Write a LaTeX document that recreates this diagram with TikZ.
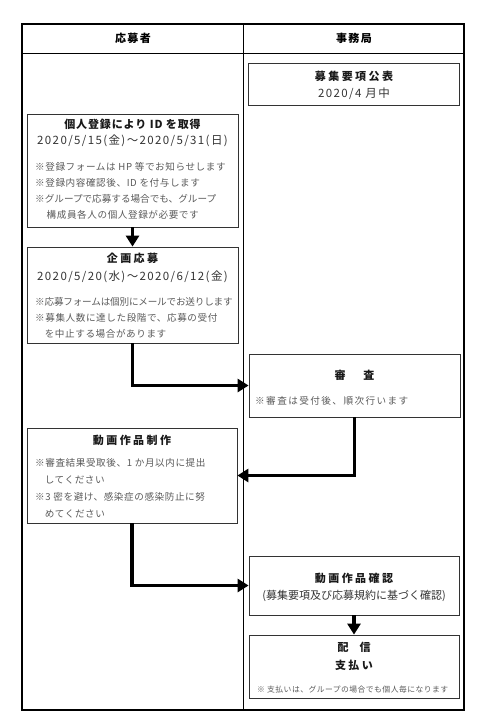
\documentclass[tikz,border=0pt]{standalone}
\usepackage{fontspec}
\usepackage{tikz}
\usetikzlibrary{arrows.meta, positioning}
\setmainfont{Noto Sans CJK JP}
\definecolor{notegray}{HTML}{5A5A5A}
\definecolor{txtgray}{HTML}{333333}
\newcommand{\spaced}[1]{\addfontfeature{LetterSpace=#1}}

\begin{document}
\begin{tikzpicture}[
    x=1pt, y=-1pt,
    lane/.style={draw=black, line width=0.9pt},
    box/.style={rectangle, draw=black!80, line width=0.8pt, inner sep=0pt, minimum width=211pt},
    hdr/.style={font=\bfseries\fontsize{11}{12}\selectfont\spaced{12}, inner sep=0pt},
    ttl/.style={font=\bfseries\fontsize{11}{12}\selectfont\spaced{22}, text=black!90, inner sep=0pt},
    txt/.style={font=\fontsize{11.5}{12}\selectfont\spaced{12}, text=txtgray, inner sep=0pt},
    note/.style={font=\fontsize{9.6}{16.2}\selectfont\spaced{6}, text=notegray, align=left, anchor=north west, inner sep=0pt},
    flow/.style={draw, line width=3.6pt, -{Triangle[length=11pt, width=13pt]}}
]
\useasboundingbox (0,0) rectangle (482,720);
\draw[line width=1.2pt] (22,24) rectangle (464,710);
\draw[lane] (22,53) -- (464,53);
\draw[lane] (243,24) -- (243,710);
\node[hdr] (applicant) at (133,38) {応募者};
\node[hdr] (office) at (354,38) {事務局};

\node[box, minimum height=42pt] (kohyo) at (354,84) {};
\node[ttl] (kohyoT) at (354,76) {募集要項公表};
\node[txt] (kohyoD) at (354,94) {2020/4 月中};

\node[box, minimum height=113pt] (reg) at (132.5,170.5) {};
\node[ttl, font=\bfseries\fontsize{11}{12}\selectfont\spaced{8}] (regT) at (132.5,124) {個人登録により ID を取得};
\node[txt] (regD) at (132.5,141) {2020/5/15(金)〜2020/5/31(日)};
\node[note] (regN) at (35,162) {※登録フォームは HP 等でお知らせします\\※登録内容確認後、ID を付与します\\{\spaced{0}※グループで応募する場合でも、グループ}\\\hspace*{1.2em}構成員各人の個人登録が必要です};

\node[box, minimum height=96pt] (apply) at (132.5,295) {};
\node[ttl] (applyT) at (132.5,258) {企画応募};
\node[txt] (applyD) at (132.5,277) {2020/5/20(水)〜2020/6/12(金)};
\node[note] (applyN) at (35,297) {{\spaced{-2}※応募フォームは個別にメールでお送りします}\\※募集人数に達した段階で、応募の受付\\\hspace*{1em}を中止する場合があります};

\node[box, minimum height=63pt] (review) at (354.5,385.5) {};
\node[ttl] (reviewT) at (354.5,375) {審\hspace{1.6em}査};
\node[note, font=\fontsize{9.6}{16.2}\selectfont\spaced{15}] (reviewN) at (255,396) {※審査は受付後、順次行います};

\node[box, minimum height=95pt, minimum width=210pt] (make) at (132,475.5) {};
\node[ttl] (makeT) at (132,440) {動画作品制作};
\node[note, font=\fontsize{9.6}{17.2}\selectfont\spaced{6}] (makeN) at (35,458) {※審査結果受取後、1 か月以内に提出\\\hspace*{1em}してください\\※3 密を避け、感染症の感染防止に努\\\hspace*{1em}めてください};

\node[box, minimum height=59pt, minimum width=210pt] (check) at (354,585.5) {};
\node[ttl] (checkT) at (354,578) {動画作品確認};
\node[txt, font=\fontsize{11}{12}\selectfont] (checkD) at (354,596) {(募集要項及び応募規約に基づく確認)};

\node[box, minimum height=63pt, minimum width=210pt] (pay) at (354,666.5) {};
\node[ttl] (payT) at (354,647) {配\hspace{1em}信};
\node[ttl] (payT2) at (354,665) {支払い};
\node[note, font=\fontsize{7.8}{10}\selectfont\spaced{6}] (payN) at (257,686) {※ 支払いは、グループの場合でも個人毎になります};

\draw[flow] (reg.south) -- (apply.north);
\draw[flow] (apply.south) |- (review.west);
\draw[flow] (review.south) |- (make.east);
\draw[flow] (make.south) |- (check.west);
\draw[flow] (check.south) -- (pay.north);
\end{tikzpicture}
\end{document}
